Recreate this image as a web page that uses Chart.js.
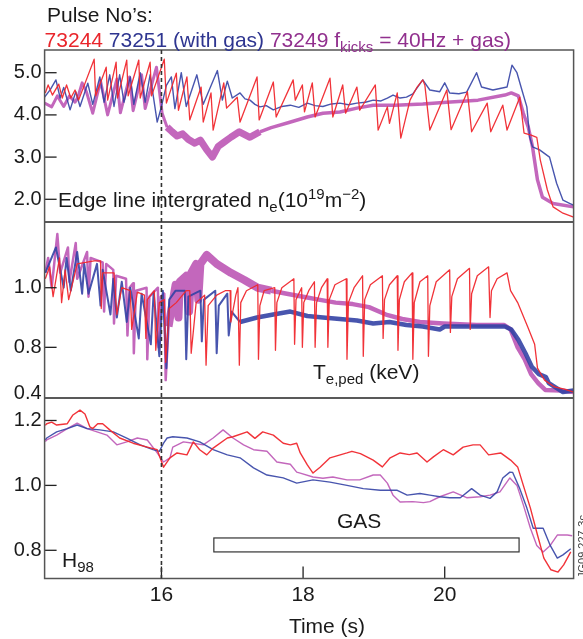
<!DOCTYPE html>
<html>
<head>
<meta charset="utf-8">
<script src="https://cdn.jsdelivr.net/npm/chart.js@4.4.1/dist/chart.umd.min.js"></script>
<style>
  html, body { margin: 0; padding: 0; background: #fff; }
  #wrap { position: relative; width: 583px; height: 639px; }
</style>
</head>
<body>
<div id="wrap"><canvas id="chart" width="583" height="639"></canvas></div>
<script>
// Tick values and labels
const timeTicks = [16, 18, 20]
const neTicks = [2, 3, 4, 5]
const teTicks = [0.645, 0.8, 1.0]
const teTickLabels = ['0.4', '0.8', '1.0']
const hTicks = [0.8, 1.0, 1.2]

// Gas puff window (s)
const gasWindow = [16.74, 21.05]
const gasLevels = [0.795, 0.838]

// Edge line integrated density, [time, value]
const neRed = [[14.36,4.52],[14.40,4.71],[14.46,4.47],[14.55,4.73],[14.60,4.40],[14.66,4.71],[14.72,4.40],[14.78,4.59],[14.83,4.35],[15.05,5.32],[15.07,4.45],[15.22,5.13],[15.24,4.35],[15.36,5.25],[15.38,4.40],[15.51,5.30],[15.53,4.45],[15.68,5.30],[15.70,4.40],[15.84,5.25],[15.86,4.45],[16.04,5.32],[16.07,4.28],[16.21,4.99],[16.24,4.11],[16.36,4.90],[16.40,3.88],[16.56,4.66],[16.59,3.83],[16.70,4.52],[16.73,3.64],[16.88,4.76],[16.92,4.16],[17.07,4.42],[17.11,3.83],[17.35,4.90],[17.38,3.88],[17.58,4.78],[17.62,3.95],[17.86,4.83],[17.89,4.35],[17.99,4.71],[18.02,4.07],[18.13,4.76],[18.17,3.95],[18.38,4.87],[18.42,3.95],[18.56,4.71],[18.60,4.04],[18.76,4.66],[18.80,4.11],[19.02,4.71],[19.06,3.64],[19.19,4.19],[19.22,3.80],[19.33,4.52],[19.38,3.45],[19.51,4.35],[19.61,4.66],[19.69,4.83],[19.72,4.70],[19.79,3.64],[20.03,4.59],[20.09,3.65],[20.32,4.55],[20.38,3.60],[20.60,4.28],[20.65,3.60],[20.82,4.23],[20.88,3.64],[21.06,4.42],[21.12,3.57],[21.22,3.52],[21.30,3.47],[21.35,2.93],[21.45,2.22],[21.53,1.82],[21.67,1.67],[21.82,1.58]]
const neBlue = [[14.35,4.42],[14.43,4.60],[14.51,4.83],[14.57,4.40],[14.62,4.65],[14.71,4.12],[14.79,4.55],[14.85,4.20],[14.96,4.75],[15.03,4.25],[15.13,4.90],[15.19,4.30],[15.27,4.95],[15.33,4.20],[15.41,4.95],[15.47,4.30],[15.56,4.90],[15.61,4.25],[15.70,5.00],[15.77,4.30],[15.84,4.95],[15.94,3.83],[16.00,4.20],[16.07,4.70],[16.14,4.90],[16.19,4.15],[16.28,5.00],[16.35,4.20],[16.50,4.95],[16.59,4.25],[16.79,5.05],[16.86,4.35],[16.93,4.80],[17.00,4.40],[17.11,4.52],[17.18,4.38],[17.25,4.35],[17.32,4.25],[17.39,4.19],[17.48,4.22],[17.58,4.12],[17.70,4.20],[17.82,4.23],[17.94,4.18],[18.06,4.28],[18.17,4.22],[18.28,4.20],[18.40,4.26],[18.52,4.28],[18.64,4.24],[18.76,4.28],[18.88,4.30],[18.99,4.35],[19.10,4.33],[19.19,4.40],[19.27,4.47],[19.37,4.40],[19.46,4.42],[19.55,4.50],[19.69,4.83],[19.79,4.59],[19.93,4.55],[20.00,4.76],[20.07,4.52],[20.20,4.50],[20.31,4.54],[20.45,5.00],[20.52,4.66],[20.68,4.59],[20.88,4.66],[20.95,5.18],[21.02,5.00],[21.09,4.59],[21.16,4.19],[21.20,3.47],[21.24,3.24],[21.34,3.17],[21.48,3.00],[21.58,2.38],[21.67,1.98],[21.77,1.90],[21.82,1.86]]
const nePurple = [[14.35,4.28],[14.45,4.19],[14.53,4.45],[14.62,4.20],[14.70,4.45],[14.78,4.30],[14.82,4.42],[14.88,4.76],[14.94,4.55],[15.03,4.04],[15.14,4.80],[15.24,4.00],[15.37,4.85],[15.42,4.05],[15.55,4.90],[15.60,4.10],[15.72,4.95],[15.77,4.15],[15.93,5.13],[16.01,4.04],[16.08,3.71],[16.15,3.60],[16.22,3.50],[16.30,3.55],[16.38,3.42],[16.47,3.33],[16.55,3.40],[16.64,3.17],[16.72,3.00],[16.80,3.25],[16.88,3.35],[16.98,3.47],[17.10,3.60],[17.25,3.47],[17.39,3.60],[17.55,3.70],[17.80,3.82],[18.06,3.95],[18.28,4.04],[18.52,4.07],[18.76,4.16],[18.99,4.23],[19.30,4.23],[19.69,4.26],[20.03,4.30],[20.47,4.35],[20.85,4.47],[20.94,4.52],[21.04,4.45],[21.11,4.04],[21.18,3.71],[21.24,3.24],[21.31,2.46],[21.38,2.05],[21.53,1.90],[21.82,1.82]]

// Pedestal electron temperature (keV)
const teRed = [[14.36,1.03],[14.42,1.07],[14.47,0.97],[14.56,1.10],[14.59,0.95],[14.64,1.06],[14.69,0.96],[14.81,1.08],[15.05,1.09],[15.14,1.09],[15.15,0.93],[15.17,1.05],[15.33,1.05],[15.37,0.91],[15.44,1.00],[15.56,0.99],[15.58,0.86],[15.66,0.985],[15.76,0.975],[15.78,0.83],[15.80,0.96],[15.90,0.99],[15.92,0.79],[15.97,0.95],[16.04,0.96],[16.06,0.75],[16.11,0.93],[16.21,0.95],[16.35,0.99],[16.40,0.99],[16.42,0.78],[16.49,0.95],[16.61,0.975],[16.63,0.74],[16.66,0.94],[16.78,0.975],[16.90,0.99],[16.97,0.99],[16.98,0.885],[17.05,0.975],[17.08,1.00],[17.10,0.74],[17.12,0.95],[17.20,0.99],[17.36,1.01],[17.37,0.76],[17.39,0.94],[17.45,0.99],[17.60,1.00],[17.61,0.79],[17.63,0.95],[17.70,1.00],[17.87,1.03],[17.88,0.81],[17.90,0.96],[17.98,1.00],[17.99,0.80],[18.01,0.95],[18.08,0.99],[18.16,1.02],[18.17,0.80],[18.19,0.95],[18.26,1.00],[18.34,1.03],[18.35,0.80],[18.37,0.96],[18.45,1.01],[18.61,1.03],[18.62,0.76],[18.64,0.95],[18.72,1.00],[18.84,1.04],[18.85,0.77],[18.87,0.96],[18.95,1.01],[19.12,1.04],[19.13,0.83],[19.15,0.96],[19.22,1.01],[19.33,1.04],[19.34,0.79],[19.36,0.96],[19.43,1.02],[19.54,1.05],[19.55,0.76],[19.57,0.95],[19.65,1.02],[19.76,1.04],[19.77,0.77],[19.79,0.94],[19.88,1.02],[20.07,1.06],[20.08,0.85],[20.10,0.97],[20.18,1.03],[20.35,1.065],[20.36,0.86],[20.38,0.98],[20.46,1.04],[20.62,1.07],[20.64,0.90],[20.66,0.99],[20.74,1.03],[20.88,1.05],[20.93,0.99],[21.03,0.95],[21.17,0.87],[21.27,0.81],[21.31,0.73],[21.41,0.69],[21.55,0.667],[21.69,0.66],[21.82,0.65]]
const teBlue = [[14.36,1.05],[14.51,1.135],[14.62,1.00],[14.66,1.10],[14.72,0.99],[14.81,1.12],[14.88,0.98],[14.91,1.08],[14.97,0.98],[15.09,1.08],[15.14,0.94],[15.17,1.06],[15.28,0.91],[15.32,1.03],[15.37,0.90],[15.44,1.02],[15.51,0.885],[15.56,1.00],[15.68,0.83],[15.72,0.98],[15.85,0.81],[15.89,0.985],[15.97,0.77],[16.02,0.99],[16.07,0.73],[16.11,0.96],[16.20,0.99],[16.33,0.99],[16.35,0.76],[16.38,0.97],[16.55,0.99],[16.57,0.82],[16.60,0.96],[16.76,0.99],[16.78,0.78],[16.81,0.94],[16.93,0.98],[16.95,0.84],[16.99,0.92],[17.11,0.885],[17.35,0.90],[17.58,0.91],[17.82,0.92],[18.06,0.905],[18.28,0.90],[18.52,0.895],[18.76,0.89],[18.99,0.88],[19.22,0.885],[19.46,0.875],[19.69,0.87],[19.93,0.86],[20.00,0.87],[20.47,0.87],[20.85,0.87],[20.94,0.86],[21.04,0.825],[21.14,0.78],[21.23,0.735],[21.33,0.71],[21.43,0.70],[21.47,0.68],[21.57,0.665],[21.67,0.65],[21.82,0.655]]
const tePurple = [[14.36,1.05],[14.40,1.10],[14.45,1.00],[14.53,1.18],[14.57,1.05],[14.68,1.135],[14.70,1.02],[14.79,1.15],[14.81,1.03],[14.95,1.12],[14.97,0.97],[15.00,1.10],[15.17,1.085],[15.19,0.92],[15.22,1.08],[15.32,1.06],[15.33,0.88],[15.36,1.04],[15.50,1.03],[15.52,0.84],[15.55,1.00],[15.60,1.015],[15.61,0.78],[15.64,0.99],[15.79,1.00],[15.80,0.76],[15.83,0.97],[15.95,1.00],[15.96,0.80],[15.99,0.97],[16.04,0.98],[16.06,0.69],[16.10,0.87],[16.20,1.01],[16.24,0.90],[16.26,1.02],[16.35,1.04],[16.39,0.92],[16.42,1.05],[16.49,1.08],[16.52,0.96],[16.55,1.08],[16.64,1.11],[16.78,1.08],[16.98,1.05],[17.17,1.026],[17.36,1.00],[17.55,0.99],[17.77,0.98],[18.00,0.97],[18.22,0.96],[18.46,0.95],[18.70,0.945],[18.93,0.935],[19.17,0.91],[19.40,0.895],[19.65,0.885],[19.98,0.88],[20.45,0.875],[20.84,0.875],[20.93,0.86],[21.03,0.80],[21.13,0.76],[21.22,0.71],[21.32,0.68],[21.42,0.657],[21.64,0.655],[21.82,0.65]]

// Confinement factor H98
const hRed = [[14.36,1.185],[14.38,1.19],[14.45,1.195],[14.52,1.186],[14.67,1.19],[14.75,1.217],[14.85,1.232],[14.92,1.22],[14.99,1.18],[15.03,1.175],[15.10,1.19],[15.17,1.19],[15.27,1.171],[15.41,1.146],[15.60,1.13],[15.80,1.118],[15.94,1.11],[16.03,1.056],[16.12,1.085],[16.22,1.10],[16.36,1.094],[16.45,1.134],[16.54,1.11],[16.64,1.094],[16.73,1.115],[16.93,1.146],[17.01,1.15],[17.21,1.165],[17.32,1.145],[17.43,1.165],[17.58,1.155],[17.72,1.13],[17.82,1.125],[17.91,1.13],[17.96,1.10],[18.06,1.063],[18.14,1.038],[18.24,1.056],[18.38,1.085],[18.62,1.10],[18.69,1.105],[18.81,1.098],[18.99,1.078],[19.12,1.057],[19.23,1.085],[19.37,1.10],[19.50,1.095],[19.61,1.10],[19.75,1.072],[19.84,1.088],[19.98,1.11],[20.12,1.094],[20.26,1.118],[20.40,1.125],[20.50,1.125],[20.62,1.094],[20.79,1.10],[20.93,1.078],[21.03,1.057],[21.11,1.00],[21.21,0.93],[21.31,0.847],[21.40,0.776],[21.50,0.74],[21.60,0.733],[21.68,0.755],[21.78,0.795]]
const hBlue = [[14.36,1.14],[14.38,1.146],[14.52,1.165],[14.67,1.175],[14.81,1.186],[14.95,1.175],[15.13,1.171],[15.32,1.165],[15.51,1.146],[15.70,1.125],[15.88,1.11],[15.97,1.105],[16.03,1.13],[16.08,1.146],[16.16,1.15],[16.36,1.146],[16.54,1.134],[16.73,1.11],[16.93,1.094],[17.11,1.085],[17.30,1.054],[17.49,1.032],[17.72,1.023],[17.91,1.007],[18.14,1.017],[18.38,1.01],[18.62,1.00],[18.85,0.99],[19.09,0.985],[19.33,0.985],[19.47,0.97],[19.65,0.975],[19.79,0.97],[19.93,0.965],[20.07,0.962],[20.22,0.962],[20.38,0.99],[20.50,0.97],[20.64,0.96],[20.74,0.98],[20.82,1.023],[20.92,1.041],[20.96,1.04],[21.06,0.99],[21.16,0.93],[21.25,0.868],[21.39,0.868],[21.49,0.815],[21.59,0.776],[21.67,0.786],[21.78,0.805]]
const hPurple = [[14.36,1.135],[14.38,1.14],[14.52,1.155],[14.67,1.175],[14.81,1.192],[14.95,1.175],[15.09,1.165],[15.23,1.155],[15.37,1.125],[15.51,1.134],[15.66,1.146],[15.80,1.14],[15.94,1.10],[16.03,1.072],[16.12,1.085],[16.16,1.118],[16.31,1.134],[16.45,1.13],[16.59,1.125],[16.73,1.146],[16.87,1.171],[17.01,1.146],[17.16,1.125],[17.30,1.11],[17.49,1.105],[17.63,1.072],[17.82,1.065],[17.91,1.041],[17.96,1.038],[18.14,1.026],[18.28,1.022],[18.42,1.026],[18.62,1.017],[18.80,1.017],[18.99,1.032],[19.09,1.032],[19.19,1.007],[19.27,0.97],[19.37,0.949],[19.55,0.95],[19.70,0.947],[19.79,0.95],[19.93,0.965],[20.12,0.98],[20.31,0.962],[20.50,0.965],[20.64,0.97],[20.78,0.98],[20.92,1.023],[21.02,1.00],[21.11,0.94],[21.21,0.868],[21.30,0.815],[21.39,0.795],[21.49,0.815],[21.59,0.847],[21.73,0.847],[21.80,0.845]]

const FONT = '"Liberation Sans", Arial, Helvetica, sans-serif'
const INK = '#1a1a1a'
const RED = 'rgba(240, 40, 46, 0.95)'
const BLUE = 'rgba(52, 66, 165, 0.9)'
const PURPLE = 'rgba(184, 76, 176, 0.85)'

// One line per series, clipped to its own panel by the plugin below
function series(data, yAxisID, color, width) {
  return {
    data: data,
    yAxisID: yAxisID,
    borderColor: color,
    borderWidth: width,
    pointRadius: 0,
    tension: 0,
    fill: false,
    borderJoinStyle: 'round',
  }
}

// line width that changes with time (noisy traces look like bands)
function bandWidth(steps) {
  return (c) => {
    const t = c.p0.parsed.x
    for (const s of steps) if (t < s[0]) return s[1]
    return steps[steps.length - 1][1]
  }
}

// Write a run of text pieces (for sub/superscripts)
function rich(ctx, x, y, parts) {
  parts.forEach((p) => {
    ctx.font = (p.s || 21) + 'px ' + FONT
    ctx.fillStyle = p.c || INK
    ctx.fillText(p.t, x, y + (p.dy || 0))
    x += ctx.measureText(p.t).width
  })
}

function seg(ctx, x1, y1, x2, y2) {
  ctx.beginPath()
  ctx.moveTo(x1, y1)
  ctx.lineTo(x2, y2)
  ctx.stroke()
}

const panelPlugin = {
  id: 'panels',
  beforeDatasetDraw(chart, args) {
    const ys = args.meta.yScale
    const a = chart.chartArea
    const ctx = chart.ctx
    ctx.save()
    ctx.beginPath()
    ctx.rect(a.left, ys.top, a.right - a.left, ys.bottom - ys.top)
    ctx.clip()
  },
  afterDatasetDraw(chart) {
    chart.ctx.restore()
  },
  afterDraw(chart) {
    const ctx = chart.ctx
    const a = chart.chartArea
    const xs = chart.scales.x
    const yNe = chart.scales.yNe
    const yTe = chart.scales.yTe
    const yH = chart.scales.yH

    ctx.save()
    ctx.strokeStyle = '#222'
    ctx.lineWidth = 1.3

    // inward tick marks
    ;[yNe, yTe, yH].forEach((s) => {
      s.ticks.forEach((t, i) => {
        if (s === yTe && i === 0) return
        const y = s.getPixelForValue(t.value)
        seg(ctx, a.left, y, a.left + 12, y)
      })
    })
    xs.ticks.forEach((t) => {
      const x = xs.getPixelForValue(t.value)
      seg(ctx, x, a.bottom, x, a.bottom - 12)
    })

    // panel dividers
    ctx.lineWidth = 1.5
    seg(ctx, a.left, yNe.bottom, a.right, yNe.bottom)
    seg(ctx, a.left, yTe.bottom, a.right, yTe.bottom)

    // frame
    ctx.strokeStyle = '#555'
    ctx.lineWidth = 1.5
    ctx.strokeRect(a.left, a.top, a.right - a.left, a.bottom - a.top)

    // dashed marker at 16 s
    const xd = xs.getPixelForValue(16)
    ctx.strokeStyle = '#333'
    ctx.lineWidth = 1.6
    ctx.setLineDash([4, 3])
    seg(ctx, xd, a.top, xd, a.bottom)
    ctx.setLineDash([])

    // gas window box
    const gx1 = xs.getPixelForValue(gasWindow[0])
    const gx2 = xs.getPixelForValue(gasWindow[1])
    const gy1 = yH.getPixelForValue(gasLevels[1])
    const gy2 = yH.getPixelForValue(gasLevels[0])
    ctx.strokeStyle = '#333'
    ctx.lineWidth = 1.2
    ctx.strokeRect(gx1, gy1, gx2 - gx1, gy2 - gy1)

    // texts
    ctx.textBaseline = 'alphabetic'
    ctx.textAlign = 'left'
    rich(ctx, 47, 22, [{ t: 'Pulse No\u2019s:' }])
    rich(ctx, 44.6, 46.5, [
      { t: '73244 ', c: '#e9252b' },
      { t: '73251 (with gas) ', c: '#2e3590' },
      { t: '73249 f', c: '#91308e' },
      { t: 'kicks', c: '#91308e', s: 15, dy: 5 },
      { t: ' = 40Hz + gas)', c: '#91308e' },
    ])
    rich(ctx, 58, 207, [
      { t: 'Edge line intergrated n' },
      { t: 'e', s: 15, dy: 5 },
      { t: '(10' },
      { t: '19', s: 15, dy: -8 },
      { t: 'm' },
      { t: '\u22122', s: 15, dy: -8 },
      { t: ')' },
    ])
    rich(ctx, 313, 379, [{ t: 'T' }, { t: 'e,ped', s: 15, dy: 5 }, { t: ' (keV)' }])
    rich(ctx, 62, 567, [{ t: 'H' }, { t: '98', s: 15, dy: 5 }])
    rich(ctx, 337, 528, [{ t: 'GAS' }])

    ctx.textAlign = 'center'
    rich(ctx, 327, 633, [{ t: 'Time (s)' }])

    // figure id, rotated at the right edge
    ctx.translate(583, 578)
    ctx.rotate(-Math.PI / 2)
    ctx.textAlign = 'left'
    ctx.textBaseline = 'middle'
    ctx.font = '11px ' + FONT
    ctx.fillStyle = '#444'
    ctx.fillText('JG09.227-3c', 0, 0)
    ctx.restore()
  },
}

function yAxis(min, max, weight, stackWeight, ticks, labels) {
  return {
    type: 'linear',
    position: 'left',
    stack: 'panels',
    stackWeight: stackWeight,
    weight: weight,
    min: min,
    max: max,
    grid: { display: false, drawTicks: false },
    border: { display: false },
    afterBuildTicks: (s) => {
      s.ticks = ticks.map((v) => ({ value: v }))
    },
    afterFit: (s) => {
      s.width = 44.6
    },
    ticks: {
      padding: 3,
      color: INK,
      font: { family: FONT, size: 20 },
      callback: (v, i) => labels[i],
    },
  }
}

const nePurpleSet = series(nePurple, 'yNe', PURPLE, 3)
nePurpleSet.segment = { borderWidth: bandWidth([[16.05, 3], [17.3, 7], [99, 3.5]]) }
const teBlueSet = series(teBlue, 'yTe', BLUE, 2)
teBlueSet.segment = { borderWidth: bandWidth([[17.0, 2], [99, 4.5]]) }
const tePurpleSet = series(tePurple, 'yTe', PURPLE, 2.5)
tePurpleSet.segment = { borderWidth: bandWidth([[16.1, 2.5], [17.4, 8], [99, 4.5]]) }

new Chart(document.getElementById('chart'), {
  type: 'line',
  data: {
    datasets: [
      series(neRed, 'yNe', RED, 1.3),
      series(neBlue, 'yNe', BLUE, 1.4),
      nePurpleSet,
      series(teRed, 'yTe', RED, 1.3),
      teBlueSet,
      tePurpleSet,
      series(hRed, 'yH', RED, 1.4),
      series(hBlue, 'yH', BLUE, 1.4),
      series(hPurple, 'yH', PURPLE, 1.4),
    ],
  },
  options: {
    responsive: false,
    animation: false,
    devicePixelRatio: 1,
    layout: { padding: { top: 50, left: 0, right: 9.4, bottom: 0 } },
    plugins: { legend: { display: false }, tooltip: { enabled: false } },
    scales: {
      x: {
        type: 'linear',
        position: 'bottom',
        min: 14.35,
        max: 21.82,
        grid: { display: false, drawTicks: false },
        border: { display: false },
        afterBuildTicks: (s) => {
          s.ticks = timeTicks.map((v) => ({ value: v }))
        },
        afterFit: (s) => {
          s.height = 60.5
        },
        ticks: {
          padding: 4,
          maxRotation: 0,
          color: INK,
          font: { family: FONT, size: 21 },
          callback: (v) => String(v),
        },
      },
      yH: yAxis(0.7131, 1.2693, 1, 180.5, hTicks, hTicks.map((v) => v.toFixed(1))),
      yTe: yAxis(0.63, 1.2205, 2, 176, teTicks, teTickLabels),
      yNe: yAxis(1.462, 5.538, 3, 172, neTicks, neTicks.map((v) => v.toFixed(1))),
    },
  },
  plugins: [panelPlugin],
})
</script>
</body>
</html>
